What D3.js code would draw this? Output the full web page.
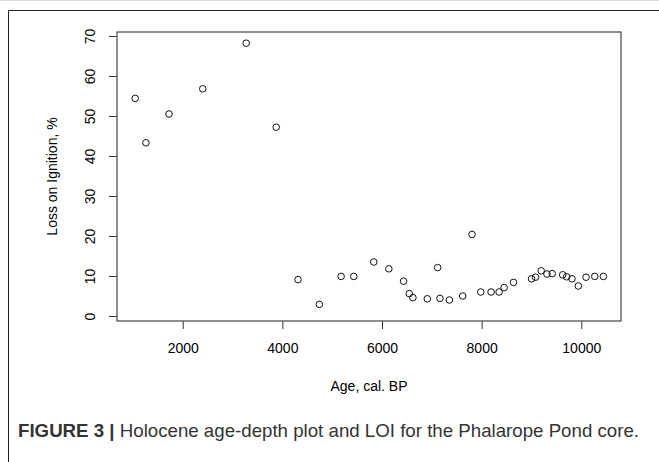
<!DOCTYPE html>
<html>
<head>
<meta charset="utf-8">
<script src="https://cdn.jsdelivr.net/npm/d3@7"></script>
<style>
  body { margin: 0; background: #fff; }
  svg { font-family: "Liberation Sans", Arial, sans-serif; }
</style>
</head>
<body>
<div class="chart"></div>
<script>
// data
let AGES = [1046, 1262, 1724, 2402, 3274, 3877, 4314, 4742, 5179, 5433,
            5835, 6137, 6433, 6547, 6620, 6909, 7117, 7163, 7352, 7620,
            7807, 7982, 8189, 8350, 8451, 8640, 9002, 9082, 9195, 9310,
            9416, 9626, 9706, 9813, 9940, 10095, 10270, 10443];
let LOI = [54.4, 43.3, 50.5, 56.8, 68.2, 47.2, 9.1, 2.9, 9.9, 9.9,
           13.5, 11.8, 8.7, 5.6, 4.6, 4.3, 12.1, 4.4, 4.0, 5.0,
           20.4, 6.0, 6.0, 6.0, 7.1, 8.4, 9.3, 9.7, 11.3, 10.5,
           10.6, 10.3, 9.8, 9.3, 7.5, 9.7, 9.9, 9.9];
let X_TICKS = [2000, 4000, 6000, 8000, 10000];
let Y_TICKS = [0, 10, 20, 30, 40, 50, 60, 70];

let FRAME_WIDTH = 659;
let FRAME_HEIGHT = 462;
let BOX = {left: 117, right: 621, top: 32, bottom: 321};

let svg = d3.select(".chart")
            .append("svg")
            .attr("width", FRAME_WIDTH)
            .attr("height", FRAME_HEIGHT);

// figure frame
svg.append("line")
   .attr("x1", 0).attr("x2", FRAME_WIDTH).attr("y1", 0.5).attr("y2", 0.5)
   .attr("stroke", "#ddd");
svg.append("path")
   .attr("d", "M8.5," + FRAME_HEIGHT + "V10.5H" + FRAME_WIDTH)
   .attr("fill", "none")
   .attr("stroke", "#222")
   .attr("stroke-width", 1);

const X_SCALE = d3.scaleLinear()
                  .domain([681, 10797])
                  .range([BOX.left, BOX.right]);

const Y_SCALE = d3.scaleLinear()
                  .domain([-1.25, 71])
                  .range([BOX.bottom, BOX.top]);

// x axis
let xAxis = svg.append("g")
   .attr("transform", "translate(0," + BOX.bottom + ")")
   .call(d3.axisBottom(X_SCALE).tickValues(X_TICKS).tickFormat(d3.format("d"))
           .tickSize(8).tickPadding(14));
xAxis.select(".domain").remove();
xAxis.attr("font-size", 14).attr("font-family", "Liberation Sans, Arial, sans-serif");
xAxis.selectAll(".tick line").attr("stroke", "#333");
xAxis.selectAll(".tick text").attr("fill", "#000");

// y axis, labels rotated like R
let yAxis = svg.append("g")
   .attr("transform", "translate(" + BOX.left + ",0)")
   .call(d3.axisLeft(Y_SCALE).tickValues(Y_TICKS).tickFormat(d3.format("d")).tickSize(8));
yAxis.select(".domain").remove();
yAxis.attr("font-size", 14).attr("font-family", "Liberation Sans, Arial, sans-serif");
yAxis.selectAll(".tick line").attr("stroke", "#333");
yAxis.selectAll(".tick text")
     .attr("transform", "rotate(-90)")
     .attr("x", 0)
     .attr("y", -22)
     .attr("dy", 0)
     .attr("text-anchor", "middle")
     .attr("fill", "#000");

// plot box
svg.append("rect")
   .attr("x", BOX.left)
   .attr("y", BOX.top)
   .attr("width", BOX.right - BOX.left)
   .attr("height", BOX.bottom - BOX.top)
   .attr("fill", "none")
   .attr("stroke", "#444")
   .attr("stroke-width", 1.2);

// points
let points = AGES.map((a, i) => ({age: a, loi: LOI[i]}));
svg.selectAll("circle")
   .data(points)
   .enter()
   .append("circle")
     .attr("cx", (d) => X_SCALE(d.age))
     .attr("cy", (d) => Y_SCALE(d.loi))
     .attr("r", 3.3)
     .attr("fill", "none")
     .attr("stroke", "#111")
     .attr("stroke-width", 1);

// axis titles
svg.append("text")
   .attr("x", (BOX.left + BOX.right) / 2)
   .attr("y", 391)
   .attr("text-anchor", "middle")
   .attr("font-size", "14px")
   .attr("fill", "#000")
   .text("Age, cal. BP");

svg.append("text")
   .attr("transform", "translate(57," + ((BOX.top + BOX.bottom) / 2) + ") rotate(-90)")
   .attr("text-anchor", "middle")
   .attr("font-size", "14px")
   .attr("fill", "#000")
   .text("Loss on Ignition, %");

// caption
let caption = svg.append("text")
   .attr("x", 18)
   .attr("y", 437)
   .attr("font-size", "19px")
   .attr("textLength", 621)
   .attr("lengthAdjust", "spacingAndGlyphs")
   .attr("fill", "#333");
caption.append("tspan").attr("font-weight", "bold").text("FIGURE 3 |");
caption.append("tspan").text(" Holocene age-depth plot and LOI for the Phalarope Pond core.");
</script>
</body>
</html>
